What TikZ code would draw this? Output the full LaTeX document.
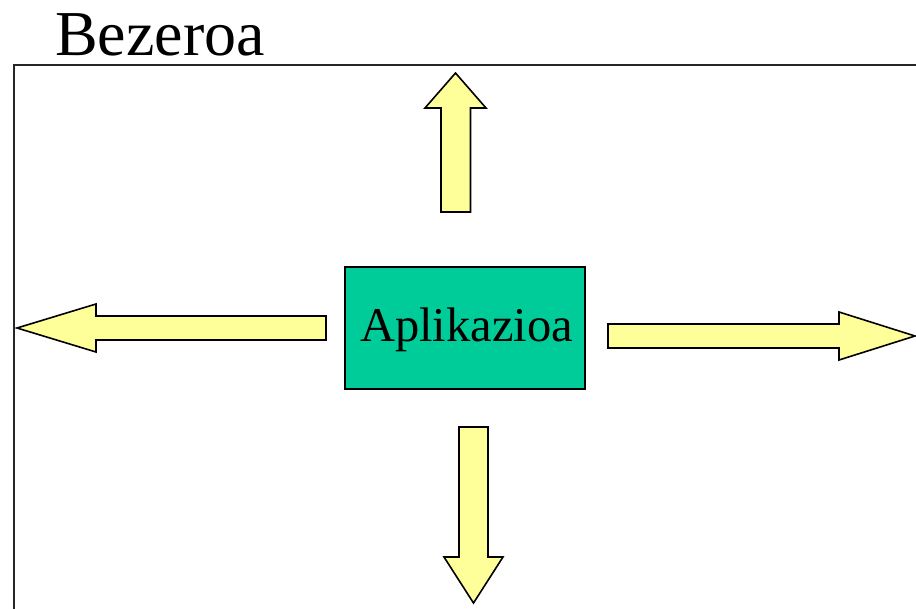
\documentclass[tikz,border=0pt]{standalone}
\usepackage{fontspec}
\setmainfont{Liberation Serif}
\begin{document}
\begin{tikzpicture}[x=1pt,y=-1pt,
  blockarrow/.style={draw=black,line width=1.6pt,fill=arrowyellow,line join=miter},
  appbox/.style={draw=black,line width=1.8pt,fill=appgreen,minimum width=240pt,minimum height=122pt,inner sep=0pt},
  frameline/.style={draw=black!85,line width=2pt},
  shadowline/.style={draw=black!45,line width=1pt}]
\definecolor{arrowyellow}{HTML}{FFFF99}
\definecolor{appgreen}{HTML}{00CC99}
\useasboundingbox (0,0) rectangle (916,608);
\clip (0,0) rectangle (916,608);
% title and frame
\node[anchor=base west,inner sep=0pt,font=\fontsize{64}{72}\selectfont] (title) at (55,55) {Bezeroa};
\draw[frameline] (14,620) -- (14,65) -- (930,65);
% central box
\node[appbox] (app) at (465,328) {};
\node[anchor=base,inner sep=0pt,font=\fontsize{48.5}{56}\selectfont] (applabel) at (466.5,341) {Aplikazioa};
% up arrow
\draw[blockarrow] (441,212) -- (441,108) -- (425,108) -- (455.5,73) -- (486,108) -- (470.5,108) -- (470.5,212) -- cycle;
% down arrow
\draw[blockarrow] (459,427) -- (488,427) -- (488,557) -- (503,557) -- (473.5,603) -- (444,557) -- (459,557) -- cycle;
% left arrow
\draw[blockarrow] (326,316) -- (96,316) -- (96,304) -- (17,328) -- (96,352) -- (96,340) -- (326,340) -- cycle;
% right arrow
\draw[blockarrow] (608,324) -- (839,324) -- (839,312) -- (915,336) -- (839,360) -- (839,348) -- (608,348) -- cycle;
\end{tikzpicture}
\end{document}
